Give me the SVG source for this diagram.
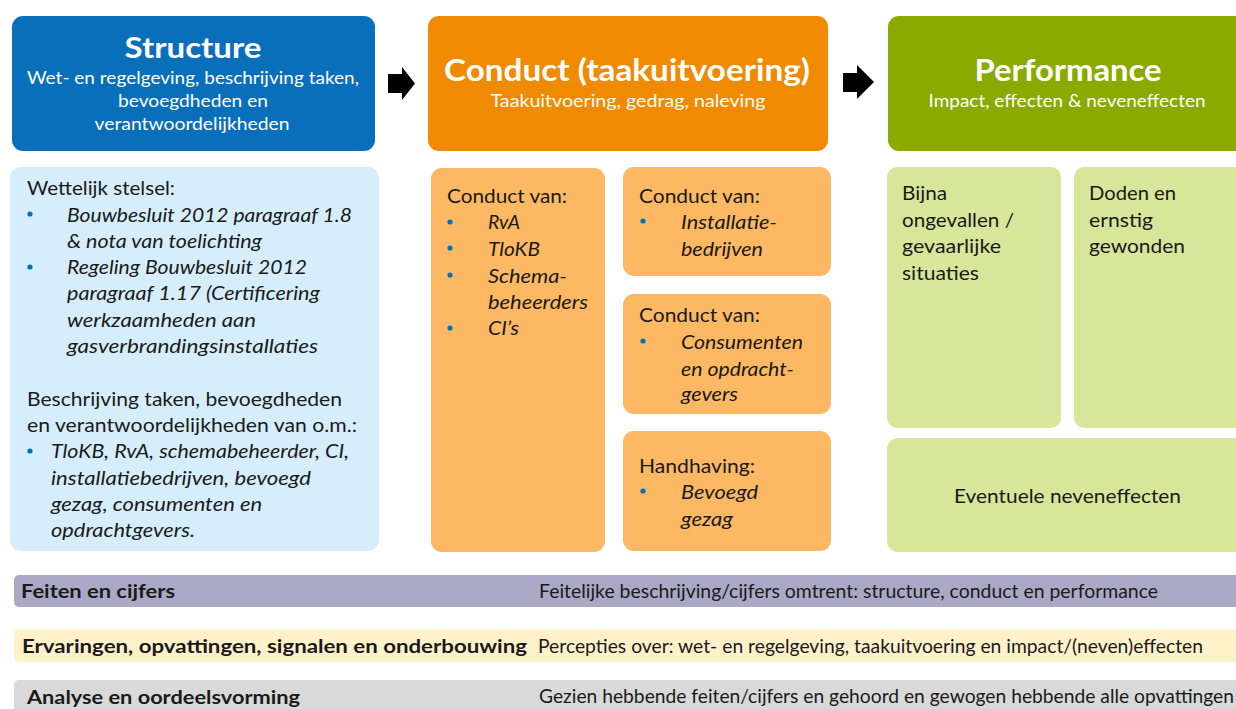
<svg xmlns="http://www.w3.org/2000/svg" width="1236" height="709" viewBox="0 0 1236 709">
<style>
text{font-family:Lato,"Noto Sans","Liberation Sans",sans-serif;fill:#1a1a1a}
.t{font-size:20px}
.i{font-style:italic}
.h{font-weight:bold;fill:#fff;text-anchor:middle}
.s{font-size:18px;fill:#fff;text-anchor:middle}
.b{font-size:19px}
.bb{font-size:19px;font-weight:bold}
.dot{fill:#0070C0}
.arr{fill:#000}
</style>
<rect width="1236" height="709" fill="#fff"/>

<g id="structure-header">
<rect x="12" y="16" width="363" height="135" rx="11" fill="#0A6FBA"/>
<text class="h" x="193" y="58" font-size="28" textLength="137" lengthAdjust="spacingAndGlyphs">Structure</text>
<text class="s" x="193" y="84" textLength="332" lengthAdjust="spacingAndGlyphs">Wet- en regelgeving, beschrijving taken,</text>
<text class="s" x="193" y="107" textLength="150" lengthAdjust="spacingAndGlyphs">bevoegdheden en</text>
<text class="s" x="192" y="130" textLength="195" lengthAdjust="spacingAndGlyphs">verantwoordelijkheden</text>
</g>

<g id="conduct-header">
<rect x="428" y="16" width="400" height="135" rx="11" fill="#F08A00"/>
<text class="h" x="627" y="81" font-size="30" textLength="366" lengthAdjust="spacingAndGlyphs">Conduct (taakuitvoering)</text>
<text class="s" x="628" y="107" textLength="275" lengthAdjust="spacingAndGlyphs">Taakuitvoering, gedrag, naleving</text>
</g>

<g id="performance-header">
<rect x="888" y="16" width="370" height="135" rx="11" fill="#8BAA00"/>
<text class="h" x="1068" y="81" font-size="30" textLength="187" lengthAdjust="spacingAndGlyphs">Performance</text>
<text class="s" x="1067" y="107" textLength="277" lengthAdjust="spacingAndGlyphs">Impact, effecten &amp; neveneffecten</text>
</g>

<g id="connectors">
<polygon class="arr" points="388,74 402,74 402,67 415,83.5 402,100 402,93 388,93"/>
<polygon class="arr" points="843,73 857,73 857,65 874,82 857,99 857,92 843,92"/>
</g>

<g id="structure-detail">
<rect x="10" y="167" width="369" height="384" rx="11" fill="#D6EEFB"/>
<text class="t" x="27" y="195" textLength="148" lengthAdjust="spacingAndGlyphs">Wettelijk stelsel:</text>
<circle class="dot" cx="30" cy="214" r="2.6"/>
<text class="t i" x="67" y="222" textLength="285" lengthAdjust="spacingAndGlyphs">Bouwbesluit 2012 paragraaf 1.8</text>
<text class="t i" x="67" y="248" textLength="195" lengthAdjust="spacingAndGlyphs">&amp; nota van toelichting</text>
<circle class="dot" cx="30" cy="267" r="2.6"/>
<text class="t i" x="67" y="274" textLength="240" lengthAdjust="spacingAndGlyphs">Regeling Bouwbesluit 2012</text>
<text class="t i" x="67" y="300" textLength="253" lengthAdjust="spacingAndGlyphs">paragraaf 1.17 (Certificering</text>
<text class="t i" x="67" y="327" textLength="189" lengthAdjust="spacingAndGlyphs">werkzaamheden aan</text>
<text class="t i" x="67" y="353" textLength="251" lengthAdjust="spacingAndGlyphs">gasverbrandingsinstallaties</text>
<text class="t" x="27" y="406" textLength="315" lengthAdjust="spacingAndGlyphs">Beschrijving taken, bevoegdheden</text>
<text class="t" x="27" y="432" textLength="330" lengthAdjust="spacingAndGlyphs">en verantwoordelijkheden van o.m.:</text>
<circle class="dot" cx="30" cy="451" r="2.6"/>
<text class="t i" x="51" y="458" textLength="298" lengthAdjust="spacingAndGlyphs">TloKB, RvA, schemabeheerder, CI,</text>
<text class="t i" x="51" y="485" textLength="260" lengthAdjust="spacingAndGlyphs">installatiebedrijven, bevoegd</text>
<text class="t i" x="51" y="511" textLength="211" lengthAdjust="spacingAndGlyphs">gezag, consumenten en</text>
<text class="t i" x="51" y="537" textLength="144" lengthAdjust="spacingAndGlyphs">opdrachtgevers.</text>
</g>

<g id="conduct-organisaties">
<rect x="431" y="168" width="174" height="384" rx="11" fill="#FDB863"/>
<text class="t" x="447" y="203" textLength="120" lengthAdjust="spacingAndGlyphs">Conduct van:</text>
<circle class="dot" cx="450" cy="222" r="2.6"/>
<text class="t i" x="488" y="229" textLength="32" lengthAdjust="spacingAndGlyphs">RvA</text>
<circle class="dot" cx="450" cy="248" r="2.6"/>
<text class="t i" x="488" y="256" textLength="52" lengthAdjust="spacingAndGlyphs">TloKB</text>
<circle class="dot" cx="450" cy="275" r="2.6"/>
<text class="t i" x="488" y="283" textLength="79" lengthAdjust="spacingAndGlyphs">Schema-</text>
<text class="t i" x="488" y="309" textLength="100" lengthAdjust="spacingAndGlyphs">beheerders</text>
<circle class="dot" cx="450" cy="328" r="2.6"/>
<text class="t i" x="488" y="335" textLength="31" lengthAdjust="spacingAndGlyphs">CI’s</text>
</g>

<g id="conduct-installatiebedrijven">
<rect x="623" y="167" width="208" height="109" rx="11" fill="#FDB863"/>
<text class="t" x="639" y="203" textLength="121" lengthAdjust="spacingAndGlyphs">Conduct van:</text>
<circle class="dot" cx="643" cy="221" r="2.6"/>
<text class="t i" x="681" y="229" textLength="96" lengthAdjust="spacingAndGlyphs">Installatie-</text>
<text class="t i" x="681" y="256" textLength="82" lengthAdjust="spacingAndGlyphs">bedrijven</text>
</g>

<g id="conduct-consumenten">
<rect x="623" y="294" width="208" height="120" rx="11" fill="#FDB863"/>
<text class="t" x="639" y="322" textLength="121" lengthAdjust="spacingAndGlyphs">Conduct van:</text>
<circle class="dot" cx="643" cy="341" r="2.6"/>
<text class="t i" x="681" y="349" textLength="122" lengthAdjust="spacingAndGlyphs">Consumenten</text>
<text class="t i" x="681" y="376" textLength="113" lengthAdjust="spacingAndGlyphs">en opdracht-</text>
<text class="t i" x="681" y="401" textLength="57" lengthAdjust="spacingAndGlyphs">gevers</text>
</g>

<g id="handhaving">
<rect x="623" y="431" width="208" height="120" rx="11" fill="#FDB863"/>
<text class="t" x="639" y="473" textLength="116" lengthAdjust="spacingAndGlyphs">Handhaving:</text>
<circle class="dot" cx="643" cy="491" r="2.6"/>
<text class="t i" x="681" y="499" textLength="77" lengthAdjust="spacingAndGlyphs">Bevoegd</text>
<text class="t i" x="681" y="526" textLength="52" lengthAdjust="spacingAndGlyphs">gezag</text>
</g>

<g id="bijna-ongevallen">
<rect x="887" y="167" width="174" height="261" rx="10" fill="#D8E69B"/>
<text class="t" x="902" y="200" textLength="45" lengthAdjust="spacingAndGlyphs">Bijna</text>
<text class="t" x="902" y="227" textLength="112" lengthAdjust="spacingAndGlyphs">ongevallen /</text>
<text class="t" x="902" y="253" textLength="99" lengthAdjust="spacingAndGlyphs">gevaarlijke</text>
<text class="t" x="902" y="280" textLength="77" lengthAdjust="spacingAndGlyphs">situaties</text>
</g>

<g id="doden-gewonden">
<rect x="1074" y="167" width="180" height="261" rx="10" fill="#D8E69B"/>
<text class="t" x="1089" y="200" textLength="87" lengthAdjust="spacingAndGlyphs">Doden en</text>
<text class="t" x="1089" y="227" textLength="64" lengthAdjust="spacingAndGlyphs">ernstig</text>
<text class="t" x="1089" y="253" textLength="96" lengthAdjust="spacingAndGlyphs">gewonden</text>
</g>

<g id="neveneffecten">
<rect x="887" y="438" width="367" height="114" rx="11" fill="#D8E69B"/>
<text class="t" x="954" y="503" textLength="227" lengthAdjust="spacingAndGlyphs">Eventuele neveneffecten</text>
</g>

<g id="feiten-en-cijfers">
<rect x="14" y="575" width="1240" height="32" rx="5" fill="#AAA8C4"/>
<text class="bb" x="21" y="598" textLength="154" lengthAdjust="spacingAndGlyphs">Feiten en cijfers</text>
<text class="b" x="539" y="598" textLength="619" lengthAdjust="spacingAndGlyphs">Feitelijke beschrijving/cijfers omtrent: structure, conduct en performance</text>
</g>

<g id="ervaringen">
<rect x="14" y="629" width="1240" height="33" rx="5" fill="#FFF2CA"/>
<text class="bb" x="22" y="653" textLength="505" lengthAdjust="spacingAndGlyphs">Ervaringen, opvattingen, signalen en onderbouwing</text>
<text class="b" x="538" y="653" textLength="665" lengthAdjust="spacingAndGlyphs">Percepties over: wet- en regelgeving, taakuitvoering en impact/(neven)effecten</text>
</g>

<g id="analyse">
<rect x="14" y="680" width="1240" height="40" rx="5" fill="#D9D9D9"/>
<text class="bb" x="27" y="704" textLength="273" lengthAdjust="spacingAndGlyphs">Analyse en oordeelsvorming</text>
<text class="b" x="539" y="703" textLength="695" lengthAdjust="spacingAndGlyphs">Gezien hebbende feiten/cijfers en gehoord en gewogen hebbende alle opvattingen</text>
</g>
</svg>
